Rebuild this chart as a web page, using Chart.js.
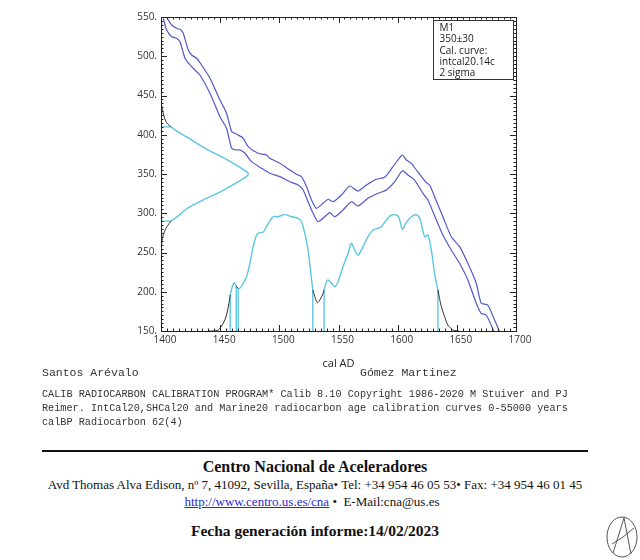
<!DOCTYPE html>
<html>
<head>
<meta charset="utf-8">
<script src="https://cdn.jsdelivr.net/npm/chart.js@4.4.1/dist/chart.umd.min.js"></script>
<style>
    body { margin: 0; background: #fff; }
    #page { position: relative; width: 640px; height: 560px; overflow: hidden; background: #fff; }
    #chart-box { position: absolute; left: 0; top: 0; width: 640px; height: 375px; }
    .mono { position: absolute; font-family: "Liberation Mono", "DejaVu Sans Mono", monospace; color: #333; white-space: nowrap; }
    .serif { position: absolute; left: 0; width: 630px; text-align: center; font-family: "Liberation Serif", serif; color: #111; white-space: nowrap; }
    #rule { position: absolute; left: 42px; top: 450px; width: 546px; height: 2px; background: #111; }
    a { color: #2a2acc; }
</style>
</head>
<body>
<div id="page">
    <div id="chart-box"><canvas id="calib_plot" width="640" height="375"></canvas></div>

    <div class="mono" style="left:42px; top:366px; font-size:11.5px;">Santos Arévalo</div>
    <div class="mono" style="left:360px; top:366px; font-size:11.5px;">Gómez Martinez</div>
    <div class="mono" style="left:42px; top:388px; font-size:10.2px; line-height:14px;">
        CALIB RADIOCARBON CALIBRATION PROGRAM* Calib 8.10 Copyright 1986-2020 M Stuiver and PJ<br>
        Reimer. IntCal20,SHCal20 and Marine20 radiocarbon age calibration curves 0-55000 years<br>
        calBP Radiocarbon 62(4)
    </div>

    <div id="rule"></div>
    <div class="serif" style="top:458px; font-size:16px; font-weight:bold;">Centro Nacional de Aceleradores</div>
    <div class="serif" style="top:477px; font-size:13px;">Avd Thomas Alva Edison, nº 7, 41092, Sevilla, España• Tel: +34 954 46 05 53• Fax: +34 954 46 01 45</div>
    <div class="serif" style="top:494px; font-size:13px; width:624px;"><a href="#">http://www.centro.us.es/cna</a> •&nbsp; E-Mail:cna@us.es</div>
    <div class="serif" style="top:522px; font-size:15.5px; font-weight:bold;">Fecha generación informe:14/02/2023</div>

    <svg style="position:absolute; left:604px; top:514px;" width="36" height="46" viewBox="0 0 36 46">
        <ellipse cx="18" cy="23" rx="15" ry="20" fill="none" stroke="#555" stroke-width="1"/>
        <path d="M9 39 L20 4 L27 40" fill="none" stroke="#555" stroke-width="1"/>
        <path d="M8 30 Q19 24 30 14" fill="none" stroke="#555" stroke-width="1"/>
    </svg>
</div>

<script>
// calibration curve, upper and lower 1 sigma edges (cal AD, 14C BP)
const upperYears = [1405.3, 1409.0, 1413.2, 1416.0, 1418.8, 1423.0, 1425.9, 1430.1, 1434.3, 1441.4, 1449.8, 1455.4, 1459.7, 1462.4, 1465.2, 1469.5, 1473.7, 1482.1, 1489.2, 1492.0, 1500.4, 1508.9, 1514.5, 1518.7, 1523.0, 1527.2, 1531.4, 1537.0, 1541.2, 1545.4, 1552.5, 1559.5, 1566.5, 1573.6, 1582.0, 1589.0, 1596.0, 1603.9, 1607.3, 1611.6, 1615.8, 1624.2, 1627.0, 1631.2, 1638.2, 1645.3, 1652.3, 1659.3, 1666.4, 1670.6, 1676.2, 1681.9, 1686.1];
const upperAges  = [548.3, 539.8, 535.6, 534.3, 529.2, 508.0, 501.6, 497.4, 488.9, 471.9, 444.3, 427.3, 403.9, 401.8, 399.7, 395.5, 384.8, 376.4, 374.2, 370.0, 363.6, 355.1, 349.6, 346.6, 333.8, 316.9, 306.3, 312.7, 317.8, 314.7, 323.3, 334.7, 328.3, 336.0, 343.3, 345.8, 359.3, 374.2, 367.8, 363.6, 355.1, 338.9, 336.0, 321.1, 295.6, 270.1, 257.4, 236.2, 210.8, 185.3, 183.1, 164.0, 149.1];

const lowerYears = [1401.9, 1404.8, 1409.0, 1413.2, 1416.0, 1420.3, 1424.5, 1428.7, 1432.9, 1441.4, 1449.8, 1455.4, 1459.7, 1463.3, 1466.7, 1470.9, 1476.5, 1485.0, 1492.0, 1500.4, 1508.9, 1515.9, 1520.1, 1524.3, 1528.5, 1532.7, 1538.4, 1542.6, 1546.8, 1553.8, 1560.9, 1566.5, 1574.9, 1583.4, 1590.5, 1597.5, 1604.0, 1608.7, 1614.3, 1621.4, 1625.6, 1629.8, 1638.2, 1645.3, 1652.3, 1659.3, 1666.4, 1670.6, 1674.9, 1681.9];
const lowerAges  = [548.3, 533.4, 524.9, 522.9, 518.5, 497.4, 488.9, 482.5, 476.1, 452.8, 423.0, 408.2, 382.7, 380.6, 380.6, 376.4, 365.7, 357.3, 350.9, 346.6, 340.2, 336.0, 329.6, 314.7, 299.9, 289.2, 295.6, 300.7, 295.6, 304.1, 314.7, 309.2, 319.0, 325.4, 329.6, 340.2, 354.2, 348.7, 342.3, 325.4, 316.9, 301.9, 272.3, 253.2, 236.2, 215.0, 185.3, 172.5, 170.4, 147.5];

// measured age 350 +/- 30, drawn against the age axis
const gaussAges = [440, 432, 421, 414, 410, 404, 396, 383, 372, 361, 356, 353, 351.5, 350, 348.5, 347, 344, 339, 328, 318, 307, 296, 290, 284, 277, 268, 258];
const gaussProb = [1400.3, 1401.2, 1403, 1405.5, 1408.5, 1414, 1423, 1437, 1451, 1464, 1469.5, 1472.3, 1473.4, 1473.8, 1473.4, 1472.3, 1469.5, 1464, 1451, 1437, 1423, 1414, 1408.5, 1405.5, 1403, 1401.2, 1400.3];
const gaussRange = [[290, 410]];

// calibrated probability, drawn above the 150 line
const distYears = [1440, 1444, 1448.4, 1452.6, 1455.4, 1457.4, 1458.5, 1460.2, 1461.9, 1463.6, 1465.2, 1466.7, 1469.5, 1472.3, 1475.1, 1477.9, 1480.8, 1483.5, 1486.3, 1489.2, 1494.8, 1499, 1504.6, 1510.3, 1515.9, 1518.7, 1521.5, 1524.3, 1526.6, 1528.3, 1530, 1532.2, 1534.2, 1537, 1537.8, 1539.8, 1541.2, 1544.1, 1546.8, 1549.6, 1553.8, 1558.1, 1560.9, 1563.7, 1566.5, 1570.7, 1574.9, 1579.2, 1583.4, 1586.2, 1590.5, 1594.7, 1600.3, 1604, 1606.8, 1611.6, 1616.3, 1619.2, 1622.8, 1625.6, 1628.4, 1631.2, 1634, 1636.9, 1639.7, 1642.4, 1646.7, 1649.5, 1652];
const distProb  = [150, 150, 151.3, 159.8, 170.4, 185.3, 195.8, 206.4, 211.5, 207.3, 204, 204.4, 210.8, 219.2, 236.2, 257.4, 272.3, 275.2, 275.7, 282.9, 295.6, 295.6, 298.2, 295.6, 293.6, 289.2, 274.5, 253.2, 223.5, 202.2, 193.7, 186.1, 189.5, 198, 202.2, 212.8, 215, 210.8, 206.4, 212.8, 231.9, 249, 261.7, 253.2, 246.8, 257.4, 270.1, 278.7, 280.8, 282.9, 291.4, 297.8, 296.5, 279.6, 287.2, 295.6, 297.8, 291.4, 270.1, 272.3, 253.2, 223.5, 202.2, 181, 168.2, 157.6, 151.3, 150.4, 150];
const sigmaRanges = [[1458.5, 1463.6], [1465.2, 1528.3], [1537.8, 1634.0]];

const xTicks = [1400, 1450, 1500, 1550, 1600, 1650, 1700];
const yTicks = [150, 200, 250, 300, 350, 400, 450, 500, 550];

const legendLines = ['M1', '350±30', 'Cal. curve:', 'intcal20.14c', '2 sigma'];

const BLUE = 'rgb(82, 88, 200)';
const CYAN = 'rgb(92, 200, 224)';
const DARK = '#333';

const pts = function (xs, ys) {
    return xs.map((x, i) => ({ x: x, y: ys[i] }));
}

// keep points inside (or outside) the ranges, with gaps between pieces
const splitRanges = function (points, key, ranges, inside) {
    const out = [];
    const inAny = v => ranges.some(r => v >= r[0] && v <= r[1]);
    const onEdge = v => ranges.some(r => v === r[0] || v === r[1]);
    let prevKept = false;
    for (const p of points) {
        const v = p[key];
        const keep = inside ? inAny(v) : (!inAny(v) || onEdge(v));
        if (keep) {
            out.push(p);
        } else if (prevKept) {
            out.push({ x: p.x, y: null });
        }
        prevKept = keep;
    }
    const res = [];
    for (let i = 0; i < out.length; i++) {
        res.push(out[i]);
        const n = out[i + 1];
        if (!n || out[i].y === null || n.y === null) continue;
        if (inside) {
            // two neighbours in different ranges
            const a = ranges.findIndex(r => out[i][key] >= r[0] && out[i][key] <= r[1]);
            const b = ranges.findIndex(r => n[key] >= r[0] && n[key] <= r[1]);
            if (a !== b) res.push({ x: n.x, y: null });
        } else {
            // two edge points of the same range
            const lo = Math.min(out[i][key], n[key]), hi = Math.max(out[i][key], n[key]);
            if (ranges.some(r => lo >= r[0] && hi <= r[1])) res.push({ x: n.x, y: null });
        }
    }
    return res;
}

const gaussPts = pts(gaussProb, gaussAges);
const distPts = pts(distYears, distProb);

// vertical lines at the 2 sigma limits
const rangeBars = [];
for (const r of sigmaRanges) {
    for (const b of r) {
        const top = distPts.find(p => p.x === b);
        rangeBars.push({ x: b, y: 150 }, { x: b, y: top.y }, { x: b, y: null });
    }
}
// horizontal lines at the age limits
const gaussBars = [];
for (const b of gaussRange[0]) {
    const edge = gaussPts.find(p => p.y === b);
    gaussBars.push({ x: 1400, y: b }, { x: edge.x, y: b }, { x: edge.x, y: null });
}

const boxAndTicks = {
    id: 'boxAndTicks',
    afterDatasetsDraw(chart) {
        const { ctx, chartArea: a, scales: { x, y } } = chart;
        ctx.save();
        ctx.strokeStyle = '#222';
        ctx.lineWidth = 1;
        ctx.strokeRect(Math.round(a.left) + 0.5, Math.round(a.top) + 0.5, Math.round(a.width), Math.round(a.height));
        ctx.beginPath();
        for (let v = x.min; v <= x.max; v += 5) {
            const px = Math.round(x.getPixelForValue(v)) + 0.5;
            const len = v % 50 === 0 ? 6 : 2.5;
            ctx.moveTo(px, a.bottom); ctx.lineTo(px, a.bottom - len);
            ctx.moveTo(px, a.top); ctx.lineTo(px, a.top + len);
        }
        for (let v = y.min; v <= y.max; v += 5) {
            const py = Math.round(y.getPixelForValue(v)) + 0.5;
            const len = v % 50 === 0 ? 6 : 2.5;
            ctx.moveTo(a.left, py); ctx.lineTo(a.left + len, py);
            ctx.moveTo(a.right, py); ctx.lineTo(a.right - len, py);
        }
        ctx.stroke();

        // info box, top right
        const bw = 80, bh = 59;
        const bx = Math.round(a.right - 3 - bw) + 0.5;
        const by = Math.round(a.top + 3) + 0.5;
        ctx.fillStyle = '#fff';
        ctx.fillRect(bx, by, bw, bh);
        ctx.strokeStyle = '#333';
        ctx.strokeRect(bx, by, bw, bh);
        ctx.fillStyle = '#222';
        ctx.font = '10px "Open Sans", sans-serif';
        ctx.textBaseline = 'middle';
        legendLines.forEach((t, i) => ctx.fillText(t, bx + 6, by + 7.5 + i * 11.4));
        ctx.restore();
    }
};

const lineStyle = function (data, color, width, tension) {
    return {
        data: data,
        borderColor: color,
        borderWidth: width,
        pointRadius: 0,
        fill: false,
        tension: tension || 0,
        spanGaps: false
    };
}

new Chart(document.getElementById('calib_plot'), {
    type: 'line',
    data: {
        datasets: [
            lineStyle(pts(upperYears, upperAges), BLUE, 1.2, 0.2),
            lineStyle(pts(lowerYears, lowerAges), BLUE, 1.2, 0.2),
            lineStyle(splitRanges(gaussPts, 'y', gaussRange, false), DARK, 1, 0.3),
            lineStyle(splitRanges(gaussPts, 'y', gaussRange, true), CYAN, 1.4, 0.3),
            lineStyle(gaussBars, CYAN, 1.4),
            lineStyle(splitRanges(distPts, 'x', sigmaRanges, false), DARK, 1, 0.3),
            lineStyle(splitRanges(distPts, 'x', sigmaRanges, true), CYAN, 1.4, 0.3),
            lineStyle(rangeBars, CYAN, 1.4)
        ]
    },
    plugins: [boxAndTicks],
    options: {
        responsive: false,
        animation: false,
        layout: { padding: { left: 0, right: 124, top: 17, bottom: 0 } },
        plugins: {
            legend: { display: false },
            tooltip: { enabled: false }
        },
        scales: {
            x: {
                type: 'linear',
                min: 1400,
                max: 1700,
                afterFit: scale => { scale.height = 44; },
                afterBuildTicks: scale => { scale.ticks = xTicks.map(v => ({ value: v })); },
                grid: { display: false, drawTicks: false },
                border: { display: false },
                ticks: {
                    color: '#333',
                    font: { family: 'Open Sans', size: 10 },
                    padding: 3,
                    labelOffset: 4,
                    maxRotation: 0,
                    callback: v => String(v)
                },
                title: {
                    display: true,
                    text: 'cal AD',
                    color: '#222',
                    font: { family: 'Open Sans', size: 11 },
                    padding: { top: 0, bottom: 5 }
                }
            },
            y: {
                type: 'linear',
                min: 150,
                max: 550,
                afterFit: scale => { scale.width = 161; },
                afterBuildTicks: scale => { scale.ticks = yTicks.map(v => ({ value: v })); },
                grid: { display: false, drawTicks: false },
                border: { display: false },
                ticks: {
                    color: '#333',
                    font: { family: 'Open Sans', size: 10 },
                    padding: 4,
                    callback: v => v + '.'
                }
            }
        }
    }
});
</script>
</body>
</html>
